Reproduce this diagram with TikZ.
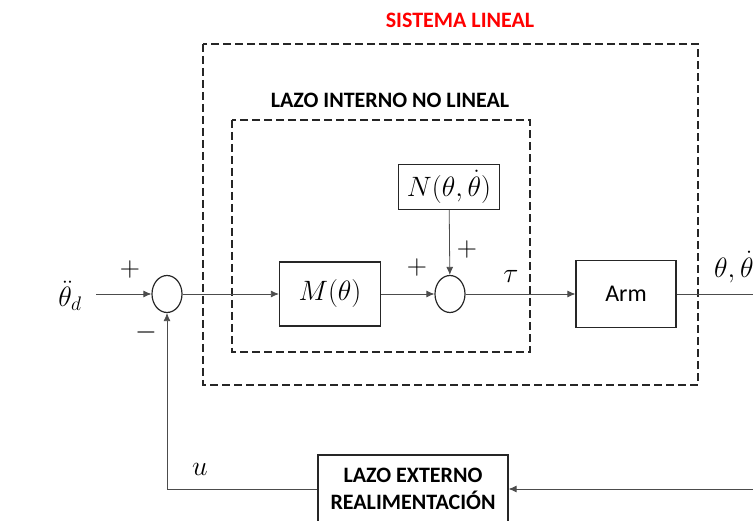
\documentclass[tikz,border=0pt]{standalone}
\usepackage{fix-cm}
\usepackage{fontspec}
\setmainfont{Carlito}
\usetikzlibrary{arrows.meta,positioning,shapes.geometric}

\begin{document}
\begin{tikzpicture}[x=1pt, y=-1pt,
    blk/.style={draw=black!85, line width=1.2pt, inner sep=0pt, font=\fontsize{24}{28}\selectfont},
    sum/.style={draw=black!85, ellipse, line width=1.2pt, minimum width=30pt, minimum height=37pt, inner sep=0pt},
    lazo/.style={draw=black!85, dash pattern=on 8pt off 4pt, line width=1.1pt},
    arr/.style={-{Latex[length=8pt,width=7pt]}, line width=0.8pt, draw=black!70},
    ln/.style={line width=0.8pt, draw=black!70},
    lbl/.style={font=\bfseries\fontsize{22}{27}\selectfont, align=center},
    mth/.style={font=\fontsize{28}{32}\selectfont, inner sep=0pt}
]
\useasboundingbox (0,0) rectangle (753,521);

% cajas punteadas
\draw[lazo] (203,44) rectangle (698,385);
\draw[lazo] (232,120) rectangle (530,352);
\node[lbl, text=red] (sis) at (460,20) {SISTEMA LINEAL};
\node[lbl] (lin) at (390,100) {LAZO INTERNO NO LINEAL};

% bloques
\node[sum] (s1) at (167,294) {};
\node[blk, mth, minimum width=101pt, minimum height=64pt] (m) at (330,294) {$M(\theta)$};
\node[sum] (s2) at (450,294) {};
\node[blk, mth, minimum width=101pt, minimum height=45pt] (n) at (449,187) {$N(\theta,\dot{\theta})$};
\node[blk, minimum width=100pt, minimum height=67pt] (arm) at (626,294) {Arm};
\node[blk, lbl, minimum width=190pt, minimum height=68pt] (fb) at (413,489) {LAZO EXTERNO\\REALIMENTACIÓN};

\coordinate (in) at (96,294);
\coordinate (out) at (753,294);
\coordinate (fbr) at (753,489);

% conexiones
\draw[arr] (in) -- (s1);
\draw[arr] (s1) -- (m);
\draw[arr] (m) -- (s2);
\draw[arr] (n) -- (s2);
\draw[arr] (s2) -- (arm);
\draw[ln] (arm) -- (out);
\draw[arr] (fbr) -- (fb);
\draw[arr] (fb.west) -| (s1.south);

% etiquetas
\node[mth] (thd) at (70,296) {$\ddot{\theta}_d$};
\node[mth] (p1) at (130,270) {$+$};
\node[mth] (m1) at (146,333) {$-$};
\node[mth] (p2) at (417,268) {$+$};
\node[mth] (p3) at (467,250) {$+$};
\node[mth] (tau) at (511,276) {$\tau$};
\node[mth] (u) at (200,469) {$u$};
\node[mth, anchor=west] (th) at (714,267) {$\theta,\dot{\theta}$};
\end{tikzpicture}
\end{document}
